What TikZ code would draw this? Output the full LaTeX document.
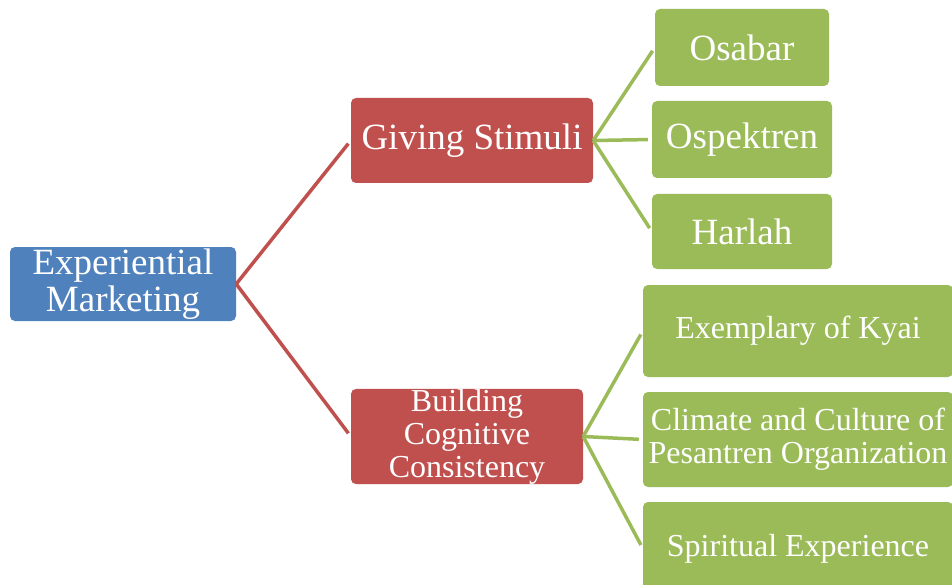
\documentclass[tikz,border=0pt]{standalone}
\usepackage{fontspec}
\setmainfont{Liberation Serif}
\newfontfamily\boxfont{Liberation Serif}

\definecolor{rootblue}{HTML}{4F81BD}
\definecolor{midred}{HTML}{C0504D}
\definecolor{leafgreen}{HTML}{9BBB59}

\tikzset{
    box/.style={rounded corners=5pt, text=white, align=center, inner sep=0pt},
    bigtext/.style={font=\boxfont\fontsize{37}{37}\selectfont},
    smalltext/.style={font=\boxfont\fontsize{32}{33}\selectfont},
    redline/.style={midred, line width=3.5pt, shorten >=4pt},
    greenline/.style={leafgreen, line width=3.5pt, shorten >=4pt}
}

\begin{document}
\begin{tikzpicture}[x=1pt, y=-1pt]
        \useasboundingbox (0,0) rectangle (952,585);
        \clip (0,0) rectangle (952,585);
        % root
        \node[box, bigtext, fill=rootblue, minimum width=226pt, minimum height=74pt]
            (em) at (123, 284) {Experiential\\Marketing};
        % second level
        \node[box, bigtext, fill=midred, minimum width=242pt, minimum height=85pt]
            (gs) at (472, 140.5) {Giving Stimuli};
        \node[box, smalltext, fill=midred, minimum width=232pt, minimum height=93pt]
            (bcc) at (467, 436.5) {Building\\Cognitive\\Consistency};
        % leaves of giving stimuli
        \node[box, bigtext, fill=leafgreen, minimum width=174pt, minimum height=77pt]
            (os) at (742, 47.5) {Osabar};
        \node[box, bigtext, fill=leafgreen, minimum width=180pt, minimum height=77pt]
            (osp) at (742, 139.5) {Ospektren};
        \node[box, bigtext, fill=leafgreen, minimum width=180pt, minimum height=75pt]
            (har) at (742, 231.5) {Harlah};
        % leaves of building cognitive consistency
        \node[box, smalltext, fill=leafgreen, minimum width=310pt, minimum height=92pt]
            (ek) at (798, 331) {Exemplary of Kyai};
        \node[box, smalltext, fill=leafgreen, minimum width=310pt, minimum height=95pt]
            (cc) at (798, 439.5) {Climate and Culture of\\Pesantren Organization};
        \node[box, smalltext, fill=leafgreen, minimum width=310pt, minimum height=93pt]
            (se) at (798, 548.5) {Spiritual Experience};
        % connectors
        \foreach \c in {gs, bcc} {
            \draw[redline] (em.east) -- (\c.west);
        }
        \foreach \c in {os, osp, har} {
            \draw[greenline] (gs.east) -- (\c.west);
        }
        \foreach \c in {ek, cc, se} {
            \draw[greenline] (bcc.east) -- (\c.west);
        }
    \end{tikzpicture}
\end{document}
